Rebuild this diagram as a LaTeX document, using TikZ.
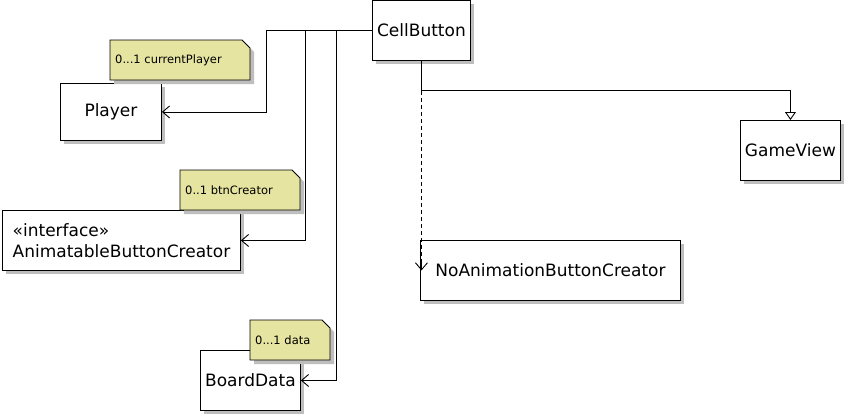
\documentclass[tikz,border=0pt]{standalone}
\usepackage{fontspec}
\setmainfont{DejaVu Sans}
\usetikzlibrary{arrows.meta,shadows,calc,positioning}

\definecolor{notecolor}{RGB}{229,228,160}
\definecolor{shadecolor}{RGB}{190,190,190}

\tikzset{
  umlshadow/.style={drop shadow={shadow xshift=4pt, shadow yshift=-4pt, fill=shadecolor, opacity=1}},
  umlclass/.style={draw, fill=white, line width=0.9pt, umlshadow, inner sep=0pt,
    anchor=north west, font=\fontsize{17}{21}\selectfont},
  notetext/.style={font=\fontsize{11.5}{14}\selectfont, inner sep=0pt, anchor=west},
  assoc/.style={line width=0.9pt, -{Straight Barb[length=7pt,width=12pt]}},
  generalize/.style={line width=0.9pt, -{Triangle[open,fill=white,length=8pt,width=11pt]}},
  realize/.style={line width=0.9pt, dash pattern=on 4pt off 3pt}
}

% note with folded corner: name, x1, y1, x2, y2, text
\newcommand{\umlnote}[6]{%
  \filldraw[fill=notecolor, line width=0.8pt, umlshadow]
    (#2,#3) -- (#4-8,#3) -- (#4,#3+8) -- (#4,#5) -- (#2,#5) -- cycle;
  \node[notetext] (#1) at (#2+5,{(#3+#5)/2}) {#6};
}

\begin{document}
\begin{tikzpicture}[x=1pt,y=-1pt]
    \useasboundingbox[fill=white] (0,0) rectangle (845,415);

    % classes
    \node[umlclass, minimum width=98pt, minimum height=60pt] (cb) at (372,0) {CellButton};
    \node[umlclass, minimum width=101pt, minimum height=57pt] (pl) at (60,83) {Player};
    \node[umlclass, minimum width=238pt, minimum height=60pt, align=left] (anim) at (2,210)
        {«interface»\\AnimatableButtonCreator};
    \node[umlclass, minimum width=100pt, minimum height=60pt] (bd) at (200,350) {BoardData};
    \node[umlclass, minimum width=100pt, minimum height=60pt] (gv) at (740,120) {GameView};
    \node[umlclass, minimum width=260pt, minimum height=60pt] (na) at (420,240) {NoAnimationButtonCreator};

    % notes
    \umlnote{ncp}{110}{40}{250}{80}{0...1 currentPlayer}
    \umlnote{nbc}{180}{170}{300}{210}{0..1 btnCreator}
    \umlnote{nbd}{250}{320}{330}{360}{0...1 data}

    % associations
    \draw[assoc] (cb.west) -| ([xshift=105pt]pl.east) -- (pl.east);
    \draw[assoc] (cb.west) -| ([xshift=65pt]anim.east) -- (anim.east);
    \draw[assoc] (cb.west) -| ([xshift=36pt]bd.east) -- (bd.east);

    % generalization and realization
    \coordinate (fork) at ($(cb.south)+(0,30)$);
    \coordinate (tip) at (fork |- na.west);
    \draw[generalize] (cb.south) -- (fork) -| (gv.north);
    \draw[realize] (fork) -- (tip);
    \draw[assoc] ($(tip)+(0,-8)$) -- (tip);
\end{tikzpicture}
\end{document}
